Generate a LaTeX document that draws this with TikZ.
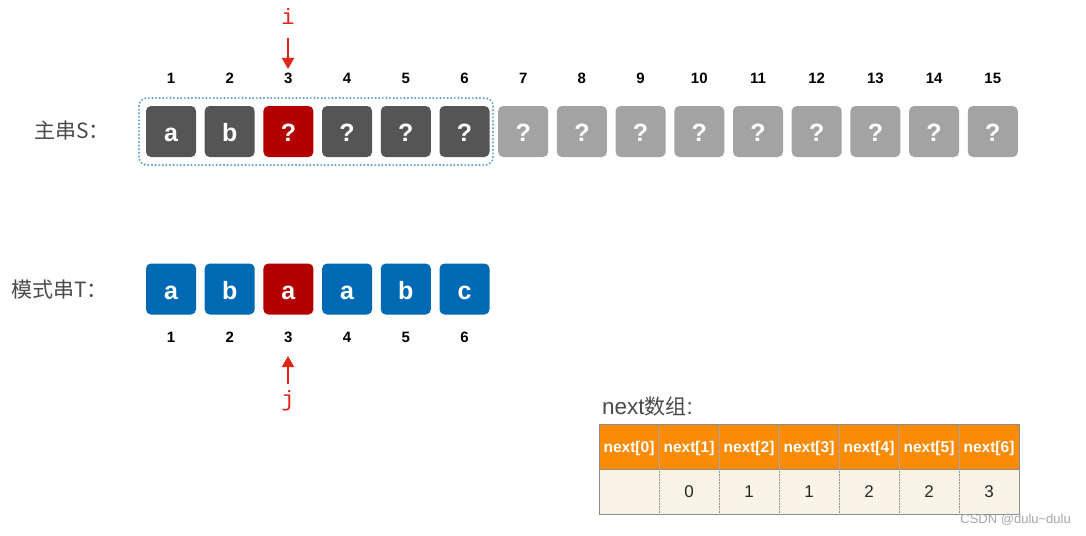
\documentclass[tikz,border=0pt]{standalone}
\usepackage{fontspec}
\setmainfont{Liberation Sans}
\newfontfamily\cjk{Noto Sans CJK SC}
\newfontfamily\monof{Liberation Mono}
\usetikzlibrary{arrows.meta}
\definecolor{darkbox}{HTML}{555555}
\definecolor{lightbox}{HTML}{A3A3A3}
\definecolor{redbox}{HTML}{B30000}
\definecolor{bluebox}{HTML}{0069B3}
\definecolor{orangecell}{HTML}{FB8B05}
\definecolor{creamcell}{HTML}{F8F5E8}
\definecolor{ptrred}{HTML}{E0261B}
\definecolor{dotblue}{HTML}{5A9AD6}
\definecolor{labelgray}{HTML}{4A4A4A}
\tikzset{
  cell/.style={rounded corners=5pt, minimum width=50pt, minimum height=51pt, inner sep=0pt,
    text height=20pt, text depth=0pt,
    text=white, font=\fontsize{25}{25}\selectfont\bfseries},
  dk/.style={cell, fill=darkbox},
  lt/.style={cell, fill=lightbox},
  rd/.style={cell, fill=redbox},
  bl/.style={cell, fill=bluebox},
  idx/.style={font=\fontsize{15}{15}\selectfont\bfseries, text=black, inner sep=0pt},
  rowlabel/.style={font=\fontsize{21}{21}\selectfont\cjk, text=labelgray, inner sep=0pt},
  ptr/.style={draw=ptrred, line width=1.8pt, -{Triangle[length=11pt,width=12pt]}},
  ptrlabel/.style={font=\fontsize{22}{22}\selectfont\monof, text=ptrred, inner sep=0pt},
  head/.style={fill=orangecell, minimum width=60pt, minimum height=45pt, inner sep=0pt,
    text height=11pt, text depth=0pt,
    text=white, font=\fontsize{15.5}{15.5}\selectfont\bfseries},
  body/.style={fill=creamcell, minimum width=60pt, minimum height=45pt, inner sep=0pt,
    text height=12pt, text depth=0pt,
    text=black!85, font=\fontsize{17}{17}\selectfont},
}
\begin{document}
\begin{tikzpicture}[x=1pt, y=-1pt]
\useasboundingbox (0,0) rectangle (1086,535);
% main string S
\node[rowlabel, anchor=west] (slabel) at (34,131) {主串S：};
\foreach \k/\c/\s in {1/a/dk,2/b/dk,3/?/rd,4/?/dk,5/?/dk,6/?/dk,7/?/lt,8/?/lt,9/?/lt,10/?/lt,11/?/lt,12/?/lt,13/?/lt,14/?/lt,15/?/lt}{
  \node[\s] (s\k) at ({171+58.7*(\k-1)},131.5) {\c};
  \node[idx] (sn\k) at ({171+58.7*(\k-1)},78) {\k};
}
\draw[dotblue, line width=2.2pt, dash pattern=on 0pt off 3.6pt, line cap=round, rounded corners=8pt]
  (139,98) rectangle (493,165);
% pointer i
\node[ptrlabel] (ilab) at (288,17) {i};
\coordinate (itop) at (288,38);
\coordinate (itip) at (288,69);
\draw[ptr] (itop) -- (itip);
% pattern T
\node[rowlabel, anchor=west] (tlabel) at (11,290) {模式串T：};
\foreach \k/\c/\s in {1/a/bl,2/b/bl,3/a/rd,4/a/bl,5/b/bl,6/c/bl}{
  \node[\s] (t\k) at ({171+58.7*(\k-1)},289) {\c};
  \node[idx] (tn\k) at ({171+58.7*(\k-1)},337.5) {\k};
}
% pointer j
\node[ptrlabel] (jlab) at (288,401) {j};
\coordinate (jbot) at (288,384);
\coordinate (jtip) at (288,356);
\draw[ptr] (jbot) -- (jtip);
% next table
\node[text=labelgray, anchor=west, inner sep=0pt] (nlabel) at (602,407)
  {\fontsize{22.5}{22.5}\selectfont next{\fontsize{21}{21}\selectfont\cjk 数组}:};
\foreach \k/\v in {0/,1/0,2/1,3/1,4/2,5/2,6/3}{
  \node[head] (h\k) at ({629+60*\k},446.5) {next[\k]};
  \node[body] (b\k) at ({629+60*\k},491.5) {\v};
}
\foreach \k in {1,...,6}{
  \draw[black!35, line width=0.6pt] ({599+60*\k},424) -- ({599+60*\k},469);
  \draw[black!45, line width=0.6pt, densely dotted] ({599+60*\k},469) -- ({599+60*\k},514);
}
\draw[black!45, line width=0.6pt] (599,469) -- (1019,469);
\draw[black!45, line width=0.8pt] (599,424) rectangle (1019,514);
% watermark
\node[font=\fontsize{13}{13}\selectfont, text=black!35, anchor=east, inner sep=0pt] (wm) at (1071,520) {CSDN @dulu\textasciitilde dulu};
\end{tikzpicture}
\end{document}
